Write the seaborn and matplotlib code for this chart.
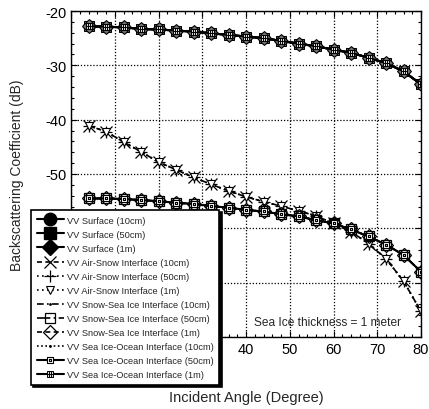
import matplotlib
matplotlib.use("Agg")
import matplotlib.pyplot as plt
import seaborn as sns
import pandas as pd
from matplotlib.lines import Line2D
from matplotlib.path import Path
from matplotlib.ticker import MultipleLocator

# Incident angles (degrees)
angles = [4, 8, 12, 16, 20, 24, 28, 32, 36, 40, 44, 48, 52, 56, 60, 64, 68, 72, 76, 80]

# Backscattering coefficients (dB)
surface_db = [-22.8, -22.9, -23.0, -23.3, -23.4, -23.6, -23.8, -24.1, -24.4, -24.7,
              -25.0, -25.5, -26.0, -26.5, -27.1, -27.7, -28.6, -29.6, -31.1, -33.5]
air_snow_db = [-41.1, -42.2, -44.1, -45.9, -47.8, -49.2, -50.6, -51.9, -53.1, -54.2,
               -55.1, -55.9, -56.8, -57.7, -59.1, -60.6, -62.8, -65.6, -69.7, -75.3]
snow_ice_db = [-54.5, -54.5, -54.6, -54.8, -55.0, -55.3, -55.5, -55.9, -56.2, -56.6,
               -56.9, -57.4, -57.8, -58.5, -59.1, -60.2, -61.5, -63.0, -64.9, -68.0]

labels = [
    "VV Surface (10cm)", "VV Surface (50cm)", "VV Surface (1m)",
    "VV Air-Snow Interface (10cm)", "VV Air-Snow Interface (50cm)", "VV Air-Snow Interface (1m)",
    "VV Snow-Sea Ice Interface (10cm)", "VV Snow-Sea Ice Interface (50cm)", "VV Snow-Sea Ice Interface (1m)",
    "VV Sea Ice-Ocean Interface (10cm)", "VV Sea Ice-Ocean Interface (50cm)", "VV Sea Ice-Ocean Interface (1m)",
]
series = [surface_db, surface_db, surface_db,
          air_snow_db, air_snow_db, air_snow_db,
          snow_ice_db, snow_ice_db, snow_ice_db,
          snow_ice_db, snow_ice_db, surface_db]

# custom markers: square with a centre dot, square with a grid
M, L, C = Path.MOVETO, Path.LINETO, Path.CLOSEPOLY
box_dot = Path([(-1, -1), (1, -1), (1, 1), (-1, 1), (-1, -1),
                (-0.15, -0.15), (0.15, -0.15), (0.15, 0.15), (-0.15, 0.15), (-0.15, -0.15)],
               [M, L, L, L, C, M, L, L, L, C])
box_grid = Path([(-1, -1), (1, -1), (1, 1), (-1, 1), (-1, -1),
                 (-0.35, -1), (-0.35, 1), (0.35, -1), (0.35, 1), (-1, 0), (1, 0)],
                [M, L, L, L, C, M, L, M, L, M, L])

styles = [
    dict(ls="-", marker="o", ms=8, mfc="0.45", mec="black", lw=1.5),
    dict(ls="-", marker="s", ms=7, mfc="0.45", mec="black", lw=1.5),
    dict(ls="-", marker="D", ms=7, mfc="0.45", mec="black", lw=1.5),
    dict(ls=(0, (3, 2)), marker="x", ms=8, mec="black", mew=0.9, lw=1.2),
    dict(ls=(0, (1, 2)), marker="+", ms=9, mec="black", mew=0.9, lw=1.2),
    dict(ls=(0, (1, 2)), marker="v", ms=5.5, mfc="white", mec="black", mew=0.8, lw=1.2),
    dict(ls=(0, (4, 2, 1, 2)), marker=".", ms=2, mec="black", lw=1.2),
    dict(ls=(0, (8, 2, 1, 2)), marker="s", ms=7, mfc="none", mec="black", mew=0.9, lw=1.2),
    dict(ls=(0, (3, 2)), marker="D", ms=7, mfc="none", mec="black", mew=0.9, lw=1.2),
    dict(ls=(0, (1, 1.5)), marker=".", ms=2, mec="black", lw=1.2),
    dict(ls="-", marker=box_dot, ms=5, mfc="white", mec="black", mew=0.8, lw=1.5),
    dict(ls="-", marker=box_grid, ms=5, mfc="0.85", mec="black", mew=0.7, lw=1.5),
]

sns.set_style("ticks")
plt.rcParams["font.family"] = ["Liberation Sans", "DejaVu Sans"]
plt.rcParams["axes.unicode_minus"] = False

fig = plt.figure(figsize=(4.29, 4.10), dpi=100)
ax = fig.add_axes([71 / 429, 1 - 338 / 410, 350 / 429, 326 / 410])

for lab, vals, st in zip(labels, series, styles):
    df = pd.DataFrame({"angle": angles, "db": vals})
    st = dict(st)
    ls = st.pop("ls")
    sns.lineplot(data=df, x="angle", y="db", ax=ax, color="black", linestyle=ls,
                 label=None, legend=False, **st)

ax.set_xlim(0, 80)
ax.set_ylim(-80, -20)
ax.xaxis.set_major_locator(MultipleLocator(10))
ax.xaxis.set_minor_locator(MultipleLocator(2))
ax.yaxis.set_major_locator(MultipleLocator(10))
ax.yaxis.set_minor_locator(MultipleLocator(2))
ax.tick_params(which="both", direction="in", top=True, right=True, colors="black",
               labelsize=10.5)
ax.tick_params(which="major", length=4, width=0.8)
ax.tick_params(which="minor", length=2.5, width=0.8)
ax.grid(True, which="major", color="black", ls=(0, (1, 1.5)), lw=0.9)
for sp in ax.spines.values():
    sp.set_color("black")
    sp.set_linewidth(1.0)

# tick labels lying under the legend box are not shown
fig.canvas.draw()
for t in ax.get_xticklabels():
    if t.get_position()[0] < 35:
        t.set_visible(False)
for t in ax.get_yticklabels():
    if t.get_position()[1] < -55:
        t.set_visible(False)

ax.set_xlabel("Incident Angle (Degree)", fontsize=10.5, labelpad=24.5)
ax.set_ylabel("Backscattering Coefficient (dB)", fontsize=10, labelpad=15)

ax.text(41.8, -77.3, "Sea Ice thickness = 1 meter", fontsize=8.6, va="center", ha="left")

# legend proxies: surface symbols shown solid black
handles = []
for i, st in enumerate(styles):
    st = dict(st)
    ls = st.pop("ls")
    if i < 3:
        st["mfc"] = "black"
        st["ms"] = st["ms"] + 1
    handles.append(Line2D([], [], color="black", linestyle=ls, **st))

leg = fig.legend(handles, labels, loc="upper left",
                 bbox_to_anchor=(31 / 429, 1 - 211 / 410), bbox_transform=fig.transFigure,
                 fontsize=6.65, frameon=True, fancybox=False, borderaxespad=0,
                 handlelength=3.0, handletextpad=0.3, labelspacing=0.55,
                 borderpad=0.6, shadow={"color": "black", "alpha": 1.0, "ox": 1.6, "oy": -1.6})
leg.get_frame().set_edgecolor("black")
leg.get_frame().set_linewidth(1.2)
leg.get_frame().set_alpha(1.0)

fig.savefig("out.png", dpi=100)
